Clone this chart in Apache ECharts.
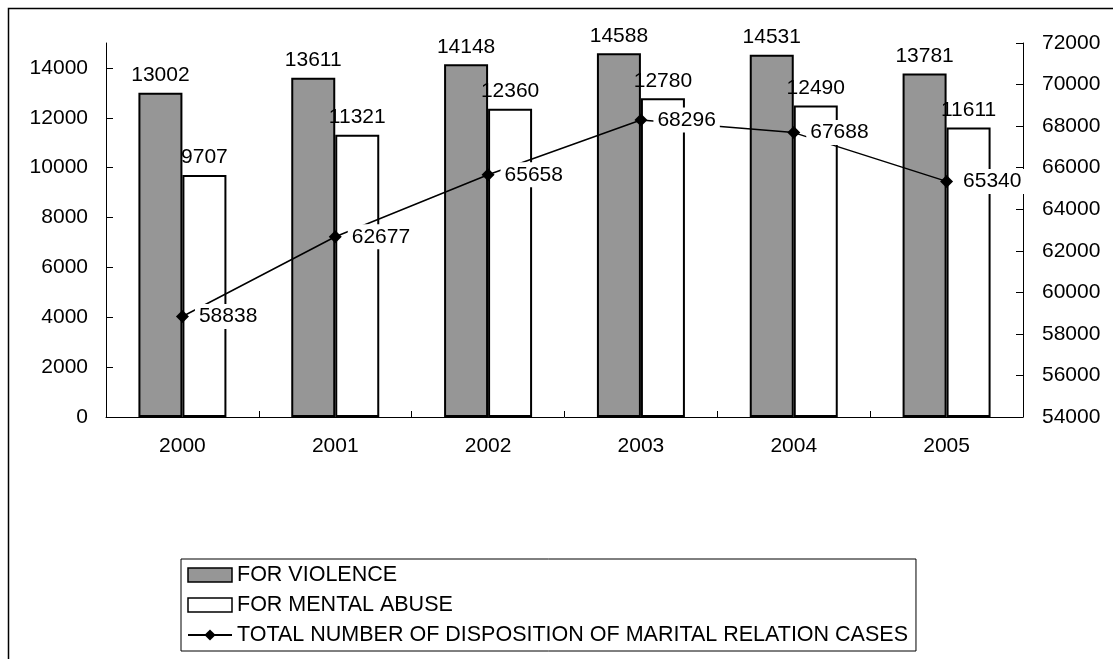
<!DOCTYPE html>
<html>
<head>
<meta charset="utf-8">
<script src="https://cdn.jsdelivr.net/npm/echarts@6/dist/echarts.min.js"></script>
<style>
html,body{margin:0;padding:0;background:#fff;}
#c{width:1113px;height:659px;}
</style>
</head>
<body>
<div id="c"></div>
<script>
var years = ['2000','2001','2002','2003','2004','2005'];
var violence = [13002, 13611, 14148, 14588, 14531, 13781];
var mentalAbuse = [9707, 11321, 12360, 12780, 12490, 11611];
var totalCases = [58838, 62677, 65658, 68296, 67688, 65340];
var leftTicks = [0, 2000, 4000, 6000, 8000, 10000, 12000, 14000];
var rightTicks = [54000, 56000, 58000, 60000, 62000, 64000, 66000, 68000, 70000, 72000];
var seriesNames = ['FOR VIOLENCE', 'FOR MENTAL ABUSE', 'TOTAL NUMBER OF DISPOSITION OF MARITAL RELATION CASES'];

var FONT = 'Liberation Sans, Arial, sans-serif';
var FS = 21;
var plain = function (v) { return String(v); };
var chart = echarts.init(document.getElementById('c'), null, {renderer: 'canvas'});
var axisCommon = {
  axisLine: {show: true, lineStyle: {color: '#000', width: 1}},
  axisTick: {show: true, inside: true, length: 7, lineStyle: {color: '#000', width: 1}},
  splitLine: {show: false},
  axisLabel: {color: '#000', fontSize: FS, fontFamily: FONT, margin: 18, formatter: plain}
};
chart.setOption({
  animation: false,
  backgroundColor: '#fff',
  textStyle: {fontFamily: FONT},
  graphic: [{
    type: 'rect', left: 6, top: 6, silent: true,
    shape: {x: 0, y: 0, width: 1300, height: 900},
    style: {fill: 'none', stroke: '#000', lineWidth: 1.5}
  }],
  grid: {left: 106, right: 90, top: 43, bottom: 242, containLabel: false},
  legend: {
    orient: 'vertical', left: 181, top: 559,
    padding: [5, 8, 5, 6],
    itemGap: 8, itemWidth: 44, itemHeight: 14,
    borderColor: '#000', borderWidth: 1, backgroundColor: '#fff',
    textStyle: {color: '#000', fontSize: 21.5, fontFamily: FONT, padding: [0, 0, 0, 0]},
    data: [
      {name: seriesNames[0], icon: 'rect', itemStyle: {color: '#969696', borderColor: '#000', borderWidth: 1.5}},
      {name: seriesNames[1], icon: 'rect', itemStyle: {color: '#fff', borderColor: '#000', borderWidth: 1.5}},
      {name: seriesNames[2]}
    ]
  },
  xAxis: {
    type: 'category', data: years, boundaryGap: true,
    axisLine: {show: true, lineStyle: {color: '#000', width: 1}},
    axisTick: {show: true, inside: true, length: 6, alignWithLabel: false, lineStyle: {color: '#000'}},
    axisLabel: {color: '#000', fontSize: FS, fontFamily: FONT, margin: 19},
    splitLine: {show: false}
  },
  yAxis: [
    Object.assign({}, axisCommon, {
      type: 'value', min: 0, max: 15000, interval: 2000, position: 'left',
      axisTick: Object.assign({}, axisCommon.axisTick, {customValues: leftTicks}),
      axisLabel: Object.assign({}, axisCommon.axisLabel, {customValues: leftTicks})
    }),
    Object.assign({}, axisCommon, {
      type: 'value', min: 54000, max: 72000, interval: 2000, position: 'right',
      axisTick: Object.assign({}, axisCommon.axisTick, {customValues: rightTicks}),
      axisLabel: Object.assign({}, axisCommon.axisLabel, {customValues: rightTicks, margin: 19})
    })
  ],
  series: [
    {
      name: seriesNames[0], type: 'bar', data: violence, barWidth: 44, barGap: '0%',
      itemStyle: {color: '#969696', borderColor: '#000', borderWidth: 2},
      label: {show: true, position: 'top', distance: 7, color: '#000', fontSize: FS, fontFamily: FONT}
    },
    {
      name: seriesNames[1], type: 'bar', data: mentalAbuse, barWidth: 44, barGap: '0%',
      itemStyle: {color: '#fff', borderColor: '#000', borderWidth: 2},
      label: {show: true, position: 'top', distance: 7, color: '#000', fontSize: FS, fontFamily: FONT}
    },
    {
      name: seriesNames[2], type: 'line', yAxisIndex: 1, data: totalCases, z: 5,
      symbol: 'diamond', symbolSize: 13,
      lineStyle: {color: '#000', width: 1.5},
      itemStyle: {color: '#000'},
      label: {show: true, position: 'right', distance: 6, color: '#000', fontSize: FS, fontFamily: FONT,
              backgroundColor: '#fff', padding: [2, 4, 2, 4]}
    }
  ]
});
</script>
</body>
</html>
